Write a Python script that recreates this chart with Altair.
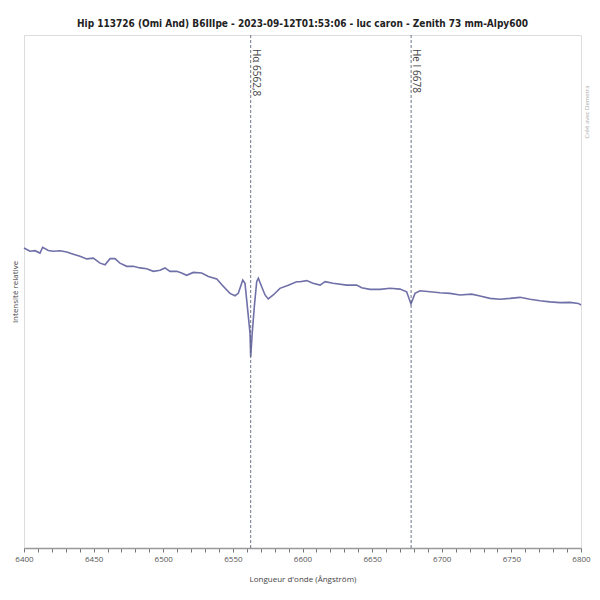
import altair as alt
import pandas as pd

# spectrum (wavelength in Angstrom, relative intensity)
wavelength = [6400.0, 6404.3, 6407.9, 6411.5, 6413.4, 6417.5, 6421.0, 6425.9, 6430.7, 6435.4,
              6440.2, 6445.0, 6449.8, 6454.6, 6458.2, 6461.8, 6465.3, 6468.9, 6473.8, 6478.5,
              6483.3, 6488.1, 6492.9, 6497.7, 6501.3, 6504.8, 6509.7, 6513.2, 6516.8, 6521.6,
              6527.6, 6532.4, 6538.4, 6542.9, 6547.9, 6551.5, 6553.9, 6557.1, 6558.7, 6560.4,
              6562.3, 6562.8, 6563.9, 6565.4, 6567.1, 6568.3, 6570.7, 6573.1, 6575.4, 6579.0,
              6583.8, 6589.8, 6595.8, 6598.2, 6603.0, 6607.5, 6612.6, 6616.2, 6621.9, 6631.7,
              6638.9, 6642.5, 6648.5, 6655.7, 6662.8, 6670.0, 6674.8, 6677.9, 6680.8, 6684.4,
              6691.6, 6698.7, 6705.9, 6713.1, 6721.5, 6727.5, 6734.6, 6741.8, 6749.0, 6756.2,
              6763.4, 6770.6, 6777.7, 6784.9, 6792.1, 6798.1, 6800.0]
intensity = [1.132, 1.120, 1.122, 1.113, 1.135, 1.123, 1.120, 1.122, 1.117, 1.109,
             1.101, 1.091, 1.094, 1.075, 1.069, 1.092, 1.092, 1.075, 1.063, 1.063,
             1.057, 1.054, 1.044, 1.048, 1.057, 1.044, 1.044, 1.038, 1.029, 1.040,
             1.038, 1.025, 1.015, 0.989, 0.961, 0.952, 0.961, 1.011, 0.999, 0.911,
             0.811, 0.722, 0.811, 0.911, 1.005, 1.018, 0.986, 0.955, 0.940, 0.955,
             0.980, 0.992, 1.005, 1.005, 1.009, 0.999, 0.992, 1.005, 0.999, 0.992,
             0.992, 0.982, 0.976, 0.976, 0.980, 0.977, 0.967, 0.921, 0.961, 0.971,
             0.967, 0.963, 0.961, 0.955, 0.958, 0.951, 0.942, 0.939, 0.942, 0.946,
             0.939, 0.933, 0.929, 0.926, 0.927, 0.923, 0.917]

line_pos = [6562.8, 6678.0]
line_names = ["H\u03b1 6562,8", "He I 6678"]

title = "Hip 113726 (Omi And) B6IIIpe - 2023-09-12T01:53:06 - luc caron - Zenith 73 mm-Alpy600"

spec = pd.DataFrame({"wl": wavelength, "flux": intensity})
lines = pd.DataFrame({"wl": line_pos, "name": line_names})

W, H = 557, 513

xscale = alt.Scale(domain=[6400, 6800], nice=False, zero=False)
yscale = alt.Scale(domain=[0, 1.936], nice=False, zero=False)

x_enc = alt.X("wl:Q", scale=xscale, title="Longueur d'onde (\u00c5ngstr\u00f6m)",
              axis=alt.Axis(values=list(range(6400, 6801, 10)), format="d",
                            labelExpr="datum.value % 50 == 0 ? datum.label : ''",
                            labelOverlap=False, labelBound=False, labelFlush=False,
                            tickSize=4, tickColor="#777", domainColor="#999",
                            domainWidth=1.5, labelFontSize=8, labelColor="#555",
                            labelPadding=3, titleFontSize=8, titleFontWeight="normal",
                            titleColor="#444", titlePadding=12, grid=False))

spectrum = alt.Chart(spec).mark_line(color="#7070a8", strokeWidth=1.6).encode(
    x=x_enc,
    y=alt.Y("flux:Q", scale=yscale, title="Intensit\u00e9 relative",
            axis=alt.Axis(labels=False, ticks=False, domain=False, grid=False,
                          titleFontSize=8, titleFontWeight="normal",
                          titleColor="#444", titlePadding=5)),
)

rules = alt.Chart(lines).mark_rule(color="#5a6478", strokeWidth=0.9,
                                   strokeDash=[3, 2]).encode(x=x_enc)

labels = alt.Chart(lines).mark_text(angle=90, align="left", baseline="bottom",
                                    dx=1, fontSize=10, color="#444").encode(
    x=x_enc, y=alt.value(13), text="name:N")

credit = alt.Chart(pd.DataFrame({"t": ["Cr\u00e9\u00e9 avec Demetra"]})).mark_text(
    angle=270, align="center", baseline="middle", fontSize=6, color="#aaa"
).encode(x=alt.value(W + 6), y=alt.value(77), text="t:N")

chart = (spectrum + rules + labels + credit).properties(
    width=W, height=H,
    title=alt.Title(title, fontSize=10, fontWeight="bold", color="#222",
                    font="Liberation Sans Narrow, DejaVu Sans Condensed, Roboto",
                    offset=6),
    autosize=alt.AutoSizeParams(type="none"),
    padding={"left": 16, "top": 27, "right": 11, "bottom": 44},
).configure_view(stroke="#999", strokeWidth=1.5).configure(
    font="Open Sans", background="white")

chart.save("out.html", embed_options={"renderer": "svg", "actions": False})
